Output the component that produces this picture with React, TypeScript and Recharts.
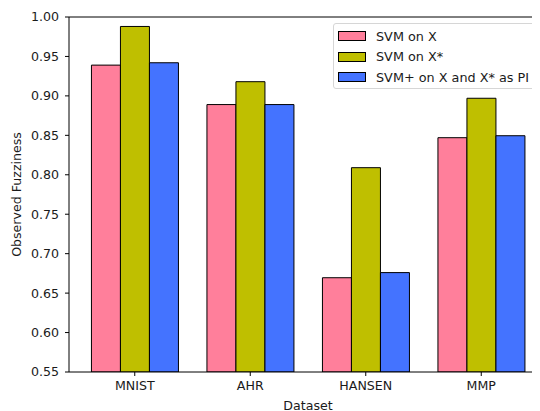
import React from 'react';
import { BarChart, Bar, XAxis, YAxis, Legend, ReferenceLine } from 'recharts';

const categories = ['MNIST', 'AHR', 'HANSEN', 'MMP'];
const svmOnX = [0.939, 0.889, 0.6695, 0.847];
const svmOnXStar = [0.988, 0.918, 0.809, 0.897];
const svmPlus = [0.942, 0.889, 0.676, 0.8495];
const yTicks = [0.55, 0.6, 0.65, 0.7, 0.75, 0.8, 0.85, 0.9, 0.95, 1.0];

const seriesNames = ['SVM on X', 'SVM on X*', 'SVM+ on X and X* as PI'];
const seriesColors = ['#ff7f9b', '#bfbf00', '#4473ff'];

const data = categories.map((c, i) => ({
  name: c,
  a: svmOnX[i],
  b: svmOnXStar[i],
  c: svmPlus[i],
}));

const FONT = '"DejaVu Sans", sans-serif';
const TEXT = '#1a1a1a';
const FS = 12.6;

const LegendBox = () => (
  <div
    style={{
      border: '1px solid #d6d6d6',
      borderRadius: 3,
      background: '#fff',
      padding: '2px 3px 2px 4px',
      fontFamily: FONT,
      fontSize: 12.8,
      color: TEXT,
      boxSizing: 'border-box',
      width: 207,
      height: 66,
    }}
  >
    {seriesNames.map((n, i) => (
      <div key={n} style={{ display: 'flex', alignItems: 'center', height: 20.5 }}>
        <div
          style={{
            width: 28,
            height: 10,
            background: seriesColors[i],
            border: '1px solid #000',
            boxSizing: 'border-box',
            marginRight: 10,
          }}
        />
        <span style={{ whiteSpace: 'nowrap' }}>{n}</span>
      </div>
    ))}
  </div>
);

export default function App() {
  return (
    <div style={{ margin: '-8px 0 0 -8px', width: 560, height: 411, overflow: 'visible' }}>
      <BarChart
        width={560}
        height={411}
        data={data}
        margin={{ top: 17, right: 13, bottom: 0, left: 0 }}
        barCategoryGap="12.5%"
        barGap={0}
      >
        <XAxis
          dataKey="name"
          padding={{ left: 8, right: 8 }}
          height={39}
          tickSize={4}
          tickMargin={5}
          axisLine={{ stroke: '#000', strokeWidth: 1 }}
          tickLine={{ stroke: '#000' }}
          tick={{ fill: TEXT, fontSize: FS, fontFamily: FONT }}
          label={{
            content: (p: any) => {
              const vb = p.viewBox || {};
              return (
                <text
                  x={vb.x + vb.width / 2}
                  y={405}
                  textAnchor="middle"
                  dominantBaseline="central"
                  fill={TEXT}
                  fontSize={FS}
                  fontFamily={FONT}
                >
                  Dataset
                </text>
              );
            },
          }}
        />
        <YAxis
          width={69}
          domain={[0.55, 1.0]}
          ticks={yTicks}
          allowDataOverflow
          tickFormatter={(v: number) => v.toFixed(2)}
          tickSize={4}
          tickMargin={6}
          axisLine={{ stroke: '#000', strokeWidth: 1 }}
          tickLine={{ stroke: '#000' }}
          tick={{ fill: TEXT, fontSize: FS, fontFamily: FONT }}
          label={{
            content: (p: any) => {
              const vb = p.viewBox || {};
              const cy = vb.y + vb.height / 2;
              return (
                <text
                  x={16}
                  y={cy}
                  transform={`rotate(-90, 16, ${cy})`}
                  textAnchor="middle"
                  dominantBaseline="central"
                  fill={TEXT}
                  fontSize={FS}
                  fontFamily={FONT}
                >
                  Observed Fuzziness
                </text>
              );
            },
          }}
        />
        <ReferenceLine y={1.0} stroke="#000" strokeWidth={1} />
        <Bar dataKey="a" name={seriesNames[0]} fill={seriesColors[0]} stroke="#000" strokeWidth={1} isAnimationActive={false} />
        <Bar dataKey="b" name={seriesNames[1]} fill={seriesColors[1]} stroke="#000" strokeWidth={1} isAnimationActive={false} />
        <Bar dataKey="c" name={seriesNames[2]} fill={seriesColors[2]} stroke="#000" strokeWidth={1} isAnimationActive={false} />
        <Legend
          layout="vertical"
          align="center"
          verticalAlign="middle"
          content={() => <LegendBox />}
          wrapperStyle={{ top: 23, left: 333, width: 207, height: 66 }}
        />
      </BarChart>
    </div>
  );
}
